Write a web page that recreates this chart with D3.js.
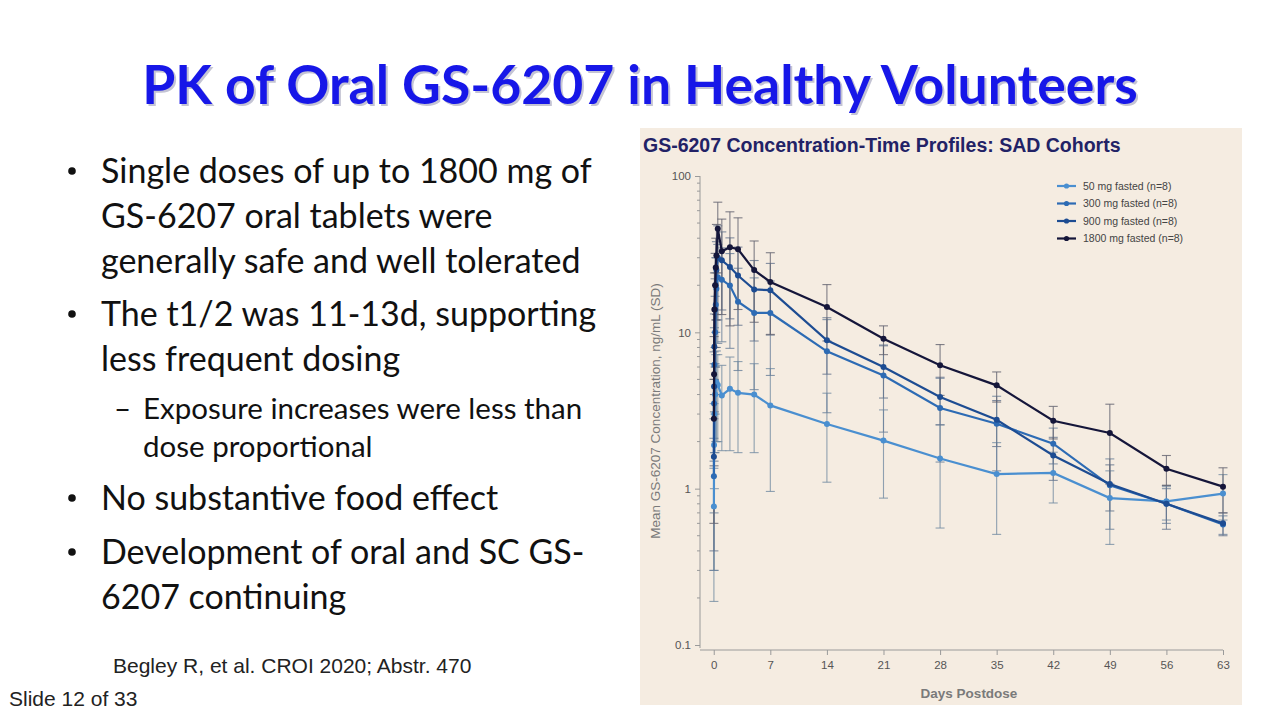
<!DOCTYPE html>
<html lang="en">
<head>
<meta charset="UTF-8">
<title>PK of Oral GS-6207 in Healthy Volunteers</title>
<script src="https://d3js.org/d3.v7.min.js"></script>
<style>
  body { margin: 0; padding: 0; background: #fff; }
  svg { display: block; }
  .slide-text { font-family: Lato, "Open Sans", sans-serif; fill: #111; }
  .axis text { font-family: Arial, "Liberation Sans", sans-serif; font-size: 11.5px; fill: #555; }
  .axis path, .axis line { stroke: #9a9a9a; }
</style>
</head>
<body>
<svg id="slide" width="1280" height="720"></svg>
<script>
// sampling times (days postdose)
const days = [0.02, 0.04, 0.08, 0.17, 0.25, 0.33, 0.5, 1, 2, 3, 5, 7, 14, 21, 28, 35, 42, 49, 56, 63];

const cohorts = ["50 mg fasted (n=8)", "300 mg fasted (n=8)", "900 mg fasted (n=8)", "1800 mg fasted (n=8)"];
const cohortColors = ["#4a8fd0", "#2d6bb4", "#1d4c92", "#15163a"];

// mean concentration, ng/mL
const mean50   = [0.77, 1.9, 3.0, 4.0, 4.6, 4.8, 4.6, 3.95, 4.35, 4.1, 4.0, 3.41, 2.59, 2.03, 1.56, 1.24, 1.26, 0.87, 0.83, 0.93];
const mean300  = [1.2, 3.5, 6.2, 10, 15, 19, 22.5, 21.7, 19.9, 15.7, 13.3, 13.3, 7.56, 5.3, 3.28, 2.6, 1.94, 1.05, 0.80, 0.59];
const mean900  = [1.6, 4.5, 8.1, 14, 20, 25, 30, 28.9, 26.2, 23.1, 18.8, 18.6, 8.9, 6.0, 3.86, 2.76, 1.63, 1.07, 0.80, 0.60];
const mean1800 = [2.8, 5.4, 14, 20, 26, 31, 46, 33, 35, 34, 25, 21, 14.5, 9.1, 6.15, 4.58, 2.72, 2.27, 1.34, 1.03];

// standard deviations
const sd50   = [0.58, 1.6, 2.0, 2.3, 2.6, 2.8, 2.6, 2.2, 2.6, 2.4, 2.3, 2.45, 1.49, 1.16, 1.0, 0.73, 0.45, 0.43, 0.2, 0.3];
const sd300  = [0.9, 2.8, 4.5, 7, 9, 11, 14, 13, 12, 10, 9, 8, 4.5, 3.0, 1.8, 1.3, 0.5, 0.5, 0.2, 0.08];
const sd900  = [1.2, 3.0, 5, 8, 10, 13, 18, 15, 14, 12, 10, 9, 3.5, 2.2, 1.3, 0.9, 0.5, 0.35, 0.25, 0.1];
const sd1800 = [2.2, 4, 10, 12, 14, 18, 22, 20, 24, 20, 13.4, 11.3, 5.7, 1.9, 2.2, 1.0, 0.64, 1.2, 0.29, 0.33];

const xTicks = [0, 7, 14, 21, 28, 35, 42, 49, 56, 63];
const yTicks = [0.1, 1, 10, 100];

const bullets = [
  { lines: ["Single doses of up to 1800 mg of", "GS-6207 oral tablets were", "generally safe and well tolerated"], y: 171, sub: false },
  { lines: ["The t1/2 was 11-13d, supporting", "less frequent dosing"], y: 314, sub: false },
  { lines: ["Exposure increases were less than", "dose proportional"], y: 409, sub: true },
  { lines: ["No substantive food effect"], y: 498, sub: false },
  { lines: ["Development of oral and SC GS-", "6207 continuing"], y: 552, sub: false }
];

const svg = d3.select("#slide");

// slide title (with soft shadow)
const titleText = "PK of Oral GS-6207 in Healthy Volunteers";
svg.append("text")
  .attr("x", 642).attr("y", 106)
  .attr("text-anchor", "middle")
  .attr("font-family", "Lato, 'Open Sans', sans-serif")
  .attr("font-weight", "bold")
  .attr("font-size", 53.5)
  .attr("fill", "#c4c4d4")
  .text(titleText);
svg.append("text")
  .attr("x", 640).attr("y", 104)
  .attr("text-anchor", "middle")
  .attr("font-family", "Lato, 'Open Sans', sans-serif")
  .attr("font-weight", "bold")
  .attr("font-size", 53.5)
  .attr("fill", "#1717e8")
  .text(titleText);

// bullets
bullets.forEach(b => {
  const fs = b.sub ? 29.5 : 34;
  const lh = b.sub ? 38 : 45;
  const tx = b.sub ? 143 : 101;
  b.lines.forEach((ln, i) => {
    svg.append("text").attr("class", "slide-text")
      .attr("x", tx).attr("y", b.y + i * lh)
      .attr("dy", "0.35em")
      .attr("font-size", fs)
      .text(ln);
  });
  if (b.sub) {
    svg.append("text").attr("class", "slide-text")
      .attr("x", 114).attr("y", b.y).attr("dy", "0.35em")
      .attr("font-size", fs).text("\u2013");
  } else {
    svg.append("circle").attr("cx", 72).attr("cy", b.y).attr("r", 3.8).attr("fill", "#111");
  }
});

svg.append("text")
  .attr("x", 113).attr("y", 673)
  .attr("font-family", "Arial, 'Liberation Sans', sans-serif")
  .attr("font-size", 21).attr("fill", "#222")
  .text("Begley R, et al. CROI 2020; Abstr. 470");
svg.append("text")
  .attr("x", 9).attr("y", 706)
  .attr("font-family", "Arial, 'Liberation Sans', sans-serif")
  .attr("font-size", 21).attr("fill", "#222")
  .text("Slide 12 of 33");

// chart panel
svg.append("rect")
  .attr("x", 640).attr("y", 128).attr("width", 602).attr("height", 577)
  .attr("fill", "#f5ece1");

svg.append("text")
  .attr("x", 643).attr("y", 152)
  .attr("font-family", "Arial, 'Liberation Sans', sans-serif")
  .attr("font-weight", "bold").attr("font-size", 19.5)
  .attr("fill", "#222266")
  .text("GS-6207 Concentration-Time Profiles: SAD Cohorts");

const x = d3.scaleLinear().domain([-1.7, 63]).range([700, 1223]);
const y = d3.scaleLog().domain([0.1, 100]).range([645, 176]);

// y axis with minor ticks
const minor = [];
[0.1, 1, 10].forEach(base => { for (let k = 2; k <= 9; k++) minor.push(base * k); });

const yAxis = svg.append("g").attr("class", "axis")
  .attr("transform", "translate(700,0)")
  .call(d3.axisLeft(y).tickValues(yTicks).tickFormat(d => d < 1 ? "0.1" : d3.format("d")(d)).tickSizeOuter(0).tickSize(5).tickPadding(4));
yAxis.select(".domain").attr("d", `M0,${y(0.1) + 3}V${y(100)}`);
yAxis.selectAll(".minor").data(minor).enter().append("line")
  .attr("class", "minor")
  .attr("x1", 0).attr("x2", -3)
  .attr("y1", d => y(d)).attr("y2", d => y(d))
  .attr("stroke", "#9a9a9a");

// x axis
const xAxis = svg.append("g").attr("class", "axis")
  .attr("transform", "translate(0,650)")
  .call(d3.axisBottom(x).tickValues(xTicks).tickSizeOuter(0).tickSize(5).tickPadding(6));
xAxis.select(".domain").attr("d", `M${x(-1.7)},0H${x(63)}`);

svg.append("text")
  .attr("transform", "translate(660,411) rotate(-90)")
  .attr("text-anchor", "middle")
  .attr("font-family", "Arial, 'Liberation Sans', sans-serif")
  .attr("font-size", 13.5).attr("fill", "#7a7a7a")
  .text("Mean GS-6207 Concentration, ng/mL (SD)");

svg.append("text")
  .attr("x", 969).attr("y", 698)
  .attr("text-anchor", "middle")
  .attr("font-family", "Arial, 'Liberation Sans', sans-serif")
  .attr("font-weight", "bold")
  .attr("font-size", 13.5).attr("fill", "#7a7a7a")
  .text("Days Postdose");

// series
const means = [mean50, mean300, mean900, mean1800];
const sds = [sd50, sd300, sd900, sd1800];
const series = cohorts.map((name, i) => ({
  name, color: cohortColors[i],
  pts: days.map((t, j) => ({ t, m: means[i][j], sd: sds[i][j] }))
}));

const errG = svg.append("g");
series.forEach(s => {
  const c = d3.interpolateRgb(s.color, "#8d8d8d")(0.65);
  s.pts.forEach(p => {
    const lo = Math.max(p.m - p.sd, 0.1);
    const hi = p.m + p.sd;
    const px = x(p.t);
    errG.append("line")
      .attr("x1", px).attr("x2", px).attr("y1", y(lo)).attr("y2", y(hi))
      .attr("stroke", c).attr("stroke-width", 1.1).attr("opacity", 0.8);
    [hi, lo].forEach(v => {
      if (v === 0.1) return;
      errG.append("line")
        .attr("x1", px - 4.5).attr("x2", px + 4.5).attr("y1", y(v)).attr("y2", y(v))
        .attr("stroke", c).attr("stroke-width", 1.1).attr("opacity", 0.8);
    });
  });
});

const line = d3.line().x(d => x(d.t)).y(d => y(d.m));
series.forEach(s => {
  const g = svg.append("g");
  g.append("path").datum(s.pts)
    .attr("d", line)
    .attr("fill", "none").attr("stroke", s.color).attr("stroke-width", 2.2);
  g.selectAll("circle").data(s.pts).enter().append("circle")
    .attr("cx", d => x(d.t)).attr("cy", d => y(d.m)).attr("r", 3)
    .attr("fill", s.color);
});

// legend
const legend = svg.append("g").attr("transform", "translate(1057,186)");
cohorts.forEach((name, i) => {
  const ly = i * 17.5;
  legend.append("line").attr("x1", 0).attr("x2", 19).attr("y1", ly).attr("y2", ly)
    .attr("stroke", cohortColors[i]).attr("stroke-width", 2.2);
  legend.append("circle").attr("cx", 9.5).attr("cy", ly).attr("r", 2.6).attr("fill", cohortColors[i]);
  legend.append("text").attr("x", 26).attr("y", ly).attr("dy", "0.35em")
    .attr("font-family", "Arial, 'Liberation Sans', sans-serif")
    .attr("font-size", 10.5).attr("fill", "#444")
    .text(name);
});
</script>
</body>
</html>
